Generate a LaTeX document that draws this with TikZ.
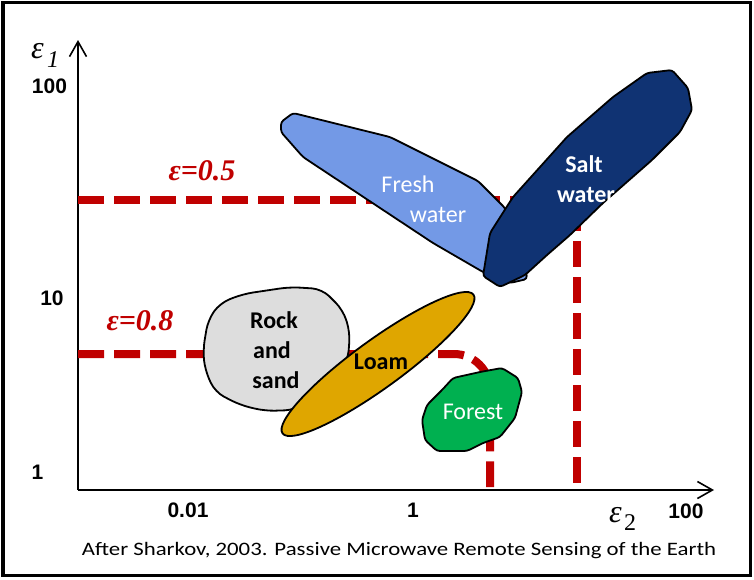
\documentclass[tikz,border=0pt]{standalone}
\usepackage{fontspec}
\setmainfont{Carlito}
\newfontfamily\numfont{Liberation Sans}
\newfontfamily\grkfont{Liberation Serif}
\usetikzlibrary{arrows.meta}
\definecolor{epsred}{RGB}{192,0,0}
\definecolor{freshblue}{RGB}{115,153,230}
\definecolor{saltnavy}{RGB}{16,51,115}
\definecolor{rockgray}{RGB}{221,221,221}
\definecolor{loamgold}{RGB}{223,166,0}
\definecolor{forestgreen}{RGB}{0,176,80}
\begin{document}
\begin{tikzpicture}[x=1pt,y=-1pt,
  region/.style={draw=black, line width=1.8pt, rounded corners=3pt},
  isoline/.style={draw=epsred, line width=8pt, dash pattern=on 26pt off 10pt},
  axisline/.style={draw=black, line width=1.8pt, -{Straight Barb[length=15pt,width=17pt,line width=1.6pt]}},
  lbl/.style={inner sep=0pt, anchor=base, font=\fontsize{24}{28}\selectfont},
  boldlbl/.style={lbl, font=\fontsize{24}{28}\selectfont\bfseries},
  tick/.style={inner sep=0pt, anchor=base, font=\numfont\bfseries\fontsize{21}{24}\selectfont},
  epslbl/.style={inner sep=0pt, anchor=base, text=epsred, font=\grkfont\bfseries\itshape\fontsize{30}{32}\selectfont}
]
\useasboundingbox (0,0) rectangle (754,579);
\fill[white] (0,0) rectangle (754,579);
\draw[black, line width=3.5pt] (3,2.5) rectangle (750.5,575.5);

% axes
\coordinate (origin) at (78,490);
\coordinate (ytop) at (78,40);
\coordinate (xend) at (714,490);
\draw[axisline] (origin) -- (ytop);
\draw[axisline] (origin) -- (xend);

% iso-emissivity lines
\coordinate (a5) at (78,200);
\coordinate (b5) at (577,200);
\coordinate (c5) at (577,487);
\draw[isoline] (a5) -- (b5) -- (c5);
\coordinate (a8) at (78,354);
\coordinate (b8) at (490,354);
\coordinate (c8) at (490,487);
\draw[isoline, rounded corners=36pt] (a8) -- (b8) -- (c8);

% regions
\draw[region, fill=freshblue] (281,122) -- (293,113) -- (390,137) -- (478,181) -- (505,208)
  -- (525,262) -- (527,279) -- (510,283) -- (483,272) -- (433,243) -- (303,157) -- (281,132) -- cycle;
\draw[region, fill=saltnavy] (647,73) -- (672,70) -- (688,88) -- (692,110) -- (680,132) -- (652,160)
  -- (603,203) -- (570,235) -- (547,255) -- (525,275) -- (500,287) -- (483,276) -- (490,233)
  -- (513,197) -- (567,137) -- (613,97) -- cycle;
\draw[region, rounded corners=10pt, fill=rockgray] (220,303) -- (243,294) -- (290,287) -- (322,289)
  -- (343,310) -- (350,332) -- (348,360) -- (330,385) -- (295,410) -- (265,411) -- (240,405)
  -- (215,392) -- (205,370) -- (203,350) -- (208,320) -- cycle;
\draw[draw=black, line width=1.8pt, fill=loamgold, rotate around={36:(378,364)}]
  (378,364) ellipse [x radius=118, y radius=24];
\draw[region, fill=forestgreen] (453,378) -- (480,372) -- (502,368) -- (518,378) -- (522,392)
  -- (515,418) -- (500,437) -- (483,443) -- (467,451) -- (437,451) -- (425,440) -- (422,420)
  -- (427,405) -- (442,390) -- cycle;

% region labels
\node[lbl, text=white] (fresh1) at (408,192) {Fresh};
\node[lbl, text=white] (fresh2) at (438,222) {water};
\node[boldlbl, text=white] (salt1) at (584,172) {Salt};
\node[boldlbl, text=white] (salt2) at (586,202) {water};
\node[boldlbl] (rock1) at (274,328) {Rock};
\node[boldlbl] (rock2) at (272,358) {and};
\node[boldlbl] (rock3) at (276,388) {sand};
\node[boldlbl] (loam) at (381,369) {Loam};
\node[lbl, text=white] (forest) at (473,419) {Forest};

% emissivity labels
\node[epslbl] (e05) at (202,180) {ε=0.5};
\node[epslbl] (e08) at (140,330) {ε=0.8};

% axis labels
\node[inner sep=0pt, anchor=base west, font=\grkfont\itshape\fontsize{32}{32}\selectfont] (eps1) at (31,58) {ε};
\node[inner sep=0pt, anchor=base west, font=\grkfont\itshape\fontsize{24}{24}\selectfont] (sub1) at (47,67) {1};
\node[inner sep=0pt, anchor=base west, font=\grkfont\itshape\fontsize{32}{32}\selectfont] (eps2) at (609,522) {ε};
\node[inner sep=0pt, anchor=base west, font=\grkfont\fontsize{24}{24}\selectfont] (sub2) at (624,530) {2};

\node[tick] (y100) at (49.5,93) {100};
\node[tick] (y10) at (52,305) {10};
\node[tick] (y1) at (37.5,479) {1};
\node[tick] (x001) at (188,517) {0.01};
\node[tick] (x1) at (413,517) {1};
\node[tick] (x100) at (686,518) {100};

% caption
\node[inner sep=0pt, anchor=base, font=\fontsize{19}{22}\selectfont] (caption) at (399,555)
  {\scalebox{1.2}[1]{After Sharkov, 2003. Passive Microwave Remote Sensing of the Earth}};
\end{tikzpicture}
\end{document}
